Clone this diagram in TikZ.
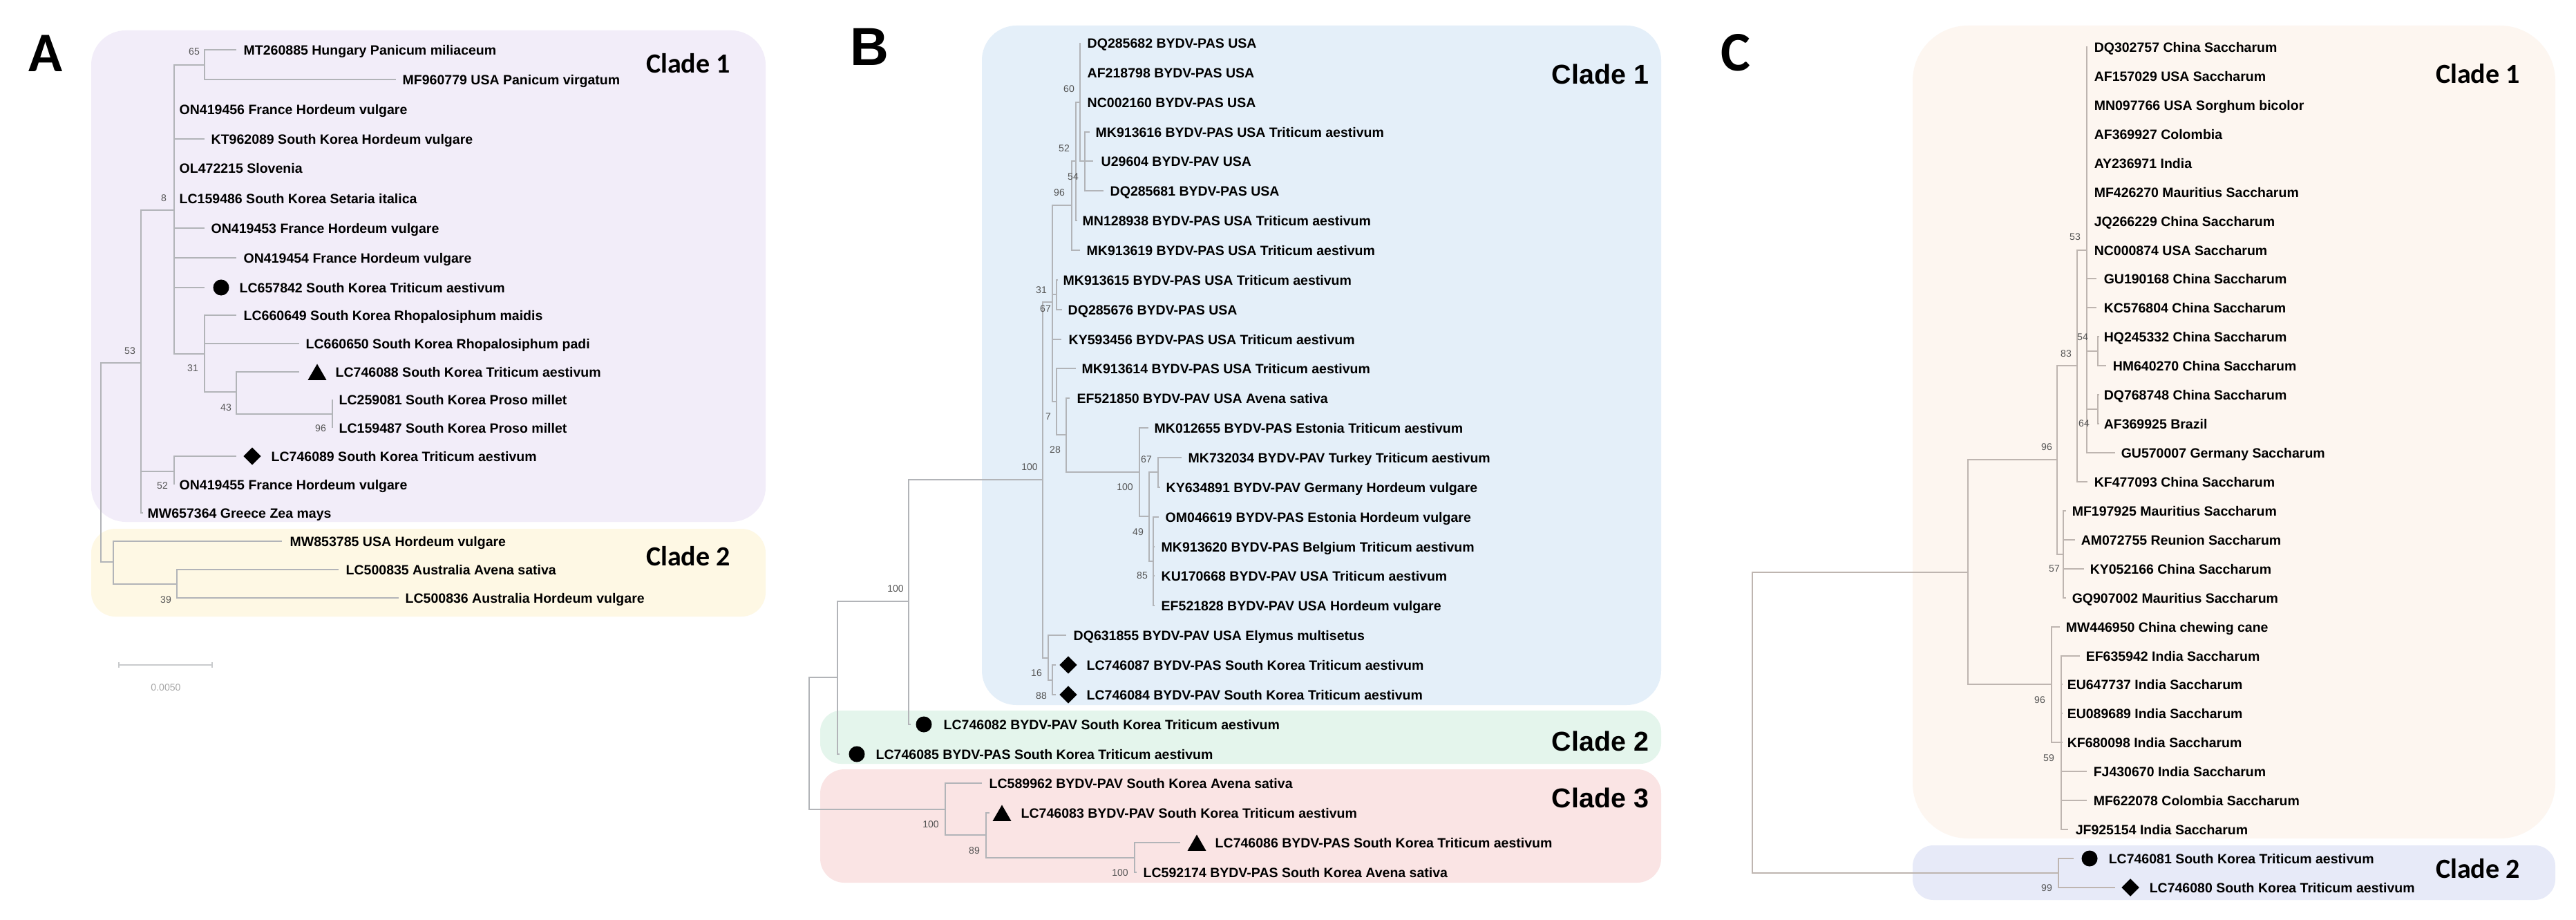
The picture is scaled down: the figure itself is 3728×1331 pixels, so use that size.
\documentclass[tikz,border=0pt]{standalone}
\usepackage{fontspec}
\setmainfont{Liberation Sans}
\newfontfamily\calfont{Carlito}
\usetikzlibrary{shapes.geometric}
\definecolor{treegray}{RGB}{178,180,184}
\definecolor{treegrayc}{RGB}{190,181,176}
\definecolor{bootgray}{RGB}{85,85,85}
\definecolor{cladeAone}{RGB}{242,237,249}
\definecolor{cladeAtwo}{RGB}{254,248,228}
\definecolor{cladeBone}{RGB}{228,239,249}
\definecolor{cladeBtwo}{RGB}{228,245,236}
\definecolor{cladeBthree}{RGB}{250,228,228}
\definecolor{cladeCone}{RGB}{253,246,240}
\definecolor{cladeCtwo}{RGB}{231,234,248}
\newcommand{\taxon}[5]{\coordinate (#1) at (#2,#3); \node [ leaf ] (#1-l) at (#4,#3) {#5};}

\begin{document}
\begin{tikzpicture}[ x=0.01cm, y=-0.01cm ,
  branch/.style={ color=treegray , line width=0.6pt , to path={|- (\tikztotarget)} },
  leaf/.style={ anchor=west , inner sep=0pt , text height=4pt , text depth=0pt , text=black , font=\fontsize{5.55}{6}\selectfont\bfseries },
  boot/.style={ inner sep=0pt , text=bootgray , font=\fontsize{4}{4.5}\selectfont },
  clade/.style={ inner sep=0pt , text height=7.6pt , text depth=0pt , font=\calfont\fontsize{11.4}{12}\selectfont\bfseries },
  cladeb/.style={ inner sep=0pt , text height=8.1pt , text depth=0pt , font=\fontsize{11.2}{12}\selectfont\bfseries },
  panel/.style={ inner sep=0pt , text height=14.6pt , text depth=0pt , font=\calfont\fontsize{23}{24}\selectfont\bfseries },
  mkcircle/.style={ circle , fill=black , inner sep=0pt , minimum size=0.23cm },
  mkdiam/.style={ diamond , fill=black , inner sep=0pt , minimum width=0.26cm , minimum height=0.26cm },
  mktri/.style={ regular polygon , regular polygon sides=3 , fill=black , inner sep=0pt , minimum size=0.31cm } ]

\fill [white] (0,0) rectangle (3728,1331);
\useasboundingbox (0,0) rectangle (3728,1331);

\fill [cladeAone , rounded corners=0.5cm] (132,44) rectangle (1108,755);
\fill [cladeAtwo , rounded corners=0.35cm] (132,765) rectangle (1108,892);
\fill [cladeBone , rounded corners=0.5cm] (1421,37) rectangle (2404,1020);
\fill [cladeBtwo , rounded corners=0.3cm] (1187,1028) rectangle (2404,1105);
\fill [cladeBthree , rounded corners=0.35cm] (1187,1113) rectangle (2404,1277);
\fill [cladeCone , rounded corners=0.8cm] (2768,37) rectangle (3698,1213);
\fill [cladeCtwo , rounded corners=0.3cm] (2768,1223) rectangle (3698,1302);

\node [ panel ] (pA) at (66,78) {A};
\node [ panel , font=\fontsize{22}{24}\selectfont\bfseries , text height=15.8pt ] (pB) at (1258,67) {B};
\node [ panel ] (pC) at (2512,77) {C};
\node [ clade ] (cA1) at (996,92) {Clade 1};
\node [ clade ] (cA2) at (996,805) {Clade 2};
\node [ cladeb ] (cB1) at (2316,107) {Clade 1};
\node [ cladeb ] (cB2) at (2316,1072) {Clade 2};
\node [ cladeb ] (cB3) at (2316,1154) {Clade 3};
\node [ clade ] (cC1) at (3586,107) {Clade 1};
\node [ clade ] (cC2) at (3586,1257) {Clade 2};

\coordinate (rootA) at (146,670);
\coordinate (a53) at (204,525);
\coordinate (a8) at (252,304);
\coordinate (a65) at (296,94);
\coordinate (a31) at (296,512);
\coordinate (a43) at (342,567);
\coordinate (a96) at (481,599);
\coordinate (a52) at (252,682);
\coordinate (a2) at (164,813);
\coordinate (a39) at (256,845);
\taxon{MT260885}{342}{72}{352}{MT260885 Hungary Panicum miliaceum}
\taxon{MF960779}{573}{115}{582}{MF960779 USA Panicum virgatum}
\taxon{ON419456}{252}{158}{259}{ON419456 France Hordeum vulgare}
\taxon{KT962089}{296}{201}{305}{KT962089 South Korea Hordeum vulgare}
\taxon{OL472215}{252}{243}{259}{OL472215 Slovenia}
\taxon{LC159486}{252}{287}{259}{LC159486 South Korea Setaria italica}
\taxon{ON419453}{296}{330}{305}{ON419453 France Hordeum vulgare}
\taxon{ON419454}{342}{373}{352}{ON419454 France Hordeum vulgare}
\taxon{LC657842}{296}{416}{346}{LC657842 South Korea Triticum aestivum}
\taxon{LC660649}{342}{456}{352}{LC660649 South Korea Rhopalosiphum maidis}
\taxon{LC660650}{433}{497}{442}{LC660650 South Korea Rhopalosiphum padi}
\taxon{LC746088}{433}{538}{485}{LC746088 South Korea Triticum aestivum}
\taxon{LC259081}{481}{578}{490}{LC259081 South Korea Proso millet}
\taxon{LC159487}{481}{619}{490}{LC159487 South Korea Proso millet}
\taxon{LC746089}{342}{660}{392}{LC746089 South Korea Triticum aestivum}
\taxon{ON419455}{252}{701}{259}{ON419455 France Hordeum vulgare}
\taxon{MW657364}{207}{742}{213}{MW657364 Greece Zea mays}
\taxon{MW853785}{408}{783}{419}{MW853785 USA Hordeum vulgare}
\taxon{LC500835}{490}{824}{500}{LC500835 Australia Avena sativa}
\taxon{LC500836}{577}{865}{586}{LC500836 Australia Hordeum vulgare}
\node [ mkcircle ] (mLC657842) at (320,416) {};
\node [ mktri ] (mLC746088) at (459,542) {};
\node [ mkdiam ] (mLC746089) at (365,660) {};

\path [ branch ]
(rootA) edge (a53) edge (a2)
(a53) edge (a8) edge (a52) edge (MW657364)
(a8) edge (a65) edge (ON419456) edge (KT962089) edge (OL472215) edge (LC159486)
     edge (ON419453) edge (ON419454) edge (LC657842) edge (a31)
(a65) edge (MT260885) edge (MF960779)
(a31) edge (LC660649) edge (LC660650) edge (a43)
(a43) edge (LC746088) edge (a96)
(a96) edge (LC259081) edge (LC159487)
(a52) edge (LC746089) edge (ON419455)
(a2) edge (MW853785) edge (a39)
(a39) edge (LC500835) edge (LC500836);

\node [ boot ] (bs-a65) at (281,75) {65};
\node [ boot ] (bs-a8) at (237,287) {8};
\node [ boot ] (bs-a31) at (279,533) {31};
\node [ boot ] (bs-a43) at (327,590) {43};
\node [ boot ] (bs-a96) at (464,620) {96};
\node [ boot ] (bs-a53) at (188,508) {53};
\node [ boot ] (bs-a52) at (235,703) {52};
\node [ boot ] (bs-a39) at (240,868) {39};

\coordinate (sbL) at (172,962);
\coordinate (sbR) at (307,962);
\draw [ color=treegray!70 , line width=0.6pt ] (sbL) -- (sbR);
\draw [ color=treegray!70 , line width=0.6pt ] ([yshift=0.04cm]sbL) -- ([yshift=-0.04cm]sbL);
\draw [ color=treegray!70 , line width=0.6pt ] ([yshift=0.04cm]sbR) -- ([yshift=-0.04cm]sbR);
\node [ boot , text=gray!70 ] (sb-l) at (240,995) {0.0050};

\coordinate (bRoot) at (1171,1076);
\coordinate (bR) at (1212,980);
\coordinate (bQ) at (1315,870);
\coordinate (bG) at (1509,694);
\coordinate (bE) at (1523,437);
\coordinate (bD) at (1551,297);
\coordinate (bC) at (1557,233);
\coordinate (bA) at (1563,148);
\coordinate (bB) at (1570,233);
\coordinate (bF) at (1529,426);
\coordinate (bH) at (1529,581);
\coordinate (bI) at (1543,629);
\coordinate (bJ) at (1649,683);
\coordinate (bK) at (1663,747);
\coordinate (bL) at (1676,683);
\coordinate (bM) at (1669,812);
\coordinate (bO) at (1517,952);
\coordinate (bP) at (1523,984);
\coordinate (bT) at (1368,1171);
\coordinate (bU) at (1427,1208);
\coordinate (bV) at (1642,1241);
\taxon{DQ285682}{1563}{62}{1573}{DQ285682 BYDV-PAS USA}
\taxon{AF218798}{1563}{105}{1573}{AF218798 BYDV-PAS USA}
\taxon{NC002160}{1563}{148}{1573}{NC002160 BYDV-PAS USA}
\taxon{MK913616}{1577}{191}{1585}{MK913616 BYDV-PAS USA Triticum aestivum}
\taxon{U29604}{1582}{233}{1593}{U29604 BYDV-PAV USA}
\taxon{DQ285681}{1597}{276}{1606}{DQ285681 BYDV-PAS USA}
\taxon{MN128938}{1559}{319}{1566}{MN128938 BYDV-PAS USA Triticum aestivum}
\taxon{MK913619}{1563}{362}{1572}{MK913619 BYDV-PAS USA Triticum aestivum}
\taxon{MK913615}{1531}{405}{1538}{MK913615 BYDV-PAS USA Triticum aestivum}
\taxon{DQ285676}{1537}{448}{1545}{DQ285676 BYDV-PAS USA}
\taxon{KY593456}{1536}{491}{1546}{KY593456 BYDV-PAS USA Triticum aestivum}
\taxon{MK913614}{1557}{533}{1565}{MK913614 BYDV-PAS USA Triticum aestivum}
\taxon{EF521850}{1548}{576}{1558}{EF521850 BYDV-PAV USA Avena sativa}
\taxon{MK012655}{1662}{619}{1670}{MK012655 BYDV-PAS Estonia Triticum aestivum}
\taxon{MK732034}{1710}{662}{1719}{MK732034 BYDV-PAV Turkey Triticum aestivum}
\taxon{KY634891}{1679}{705}{1687}{KY634891 BYDV-PAV Germany Hordeum vulgare}
\taxon{OM046619}{1677}{748}{1686}{OM046619 BYDV-PAS Estonia Hordeum vulgare}
\taxon{MK913620}{1671}{791}{1680}{MK913620 BYDV-PAS Belgium Triticum aestivum}
\taxon{KU170668}{1671}{833}{1680}{KU170668 BYDV-PAV USA Triticum aestivum}
\taxon{EF521828}{1671}{876}{1680}{EF521828 BYDV-PAV USA Hordeum vulgare}
\taxon{DQ631855}{1543}{919}{1553}{DQ631855 BYDV-PAV USA Elymus multisetus}
\taxon{LC746087}{1528}{962}{1572}{LC746087 BYDV-PAS South Korea Triticum aestivum}
\taxon{LC746084}{1528}{1005}{1572}{LC746084 BYDV-PAV South Korea Triticum aestivum}
\taxon{LC746082}{1318}{1048}{1365}{LC746082 BYDV-PAV South Korea Triticum aestivum}
\taxon{LC746085}{1215}{1091}{1267}{LC746085 BYDV-PAS South Korea Triticum aestivum}
\taxon{LC589962}{1421}{1133}{1431}{LC589962 BYDV-PAV South Korea Avena sativa}
\taxon{LC746083}{1432}{1176}{1477}{LC746083 BYDV-PAV South Korea Triticum aestivum}
\taxon{LC746086}{1708}{1219}{1758}{LC746086 BYDV-PAS South Korea Triticum aestivum}
\taxon{LC592174}{1645}{1262}{1654}{LC592174 BYDV-PAS South Korea Avena sativa}
\node [ mkdiam ] (mLC746087) at (1546,962) {};
\node [ mkdiam ] (mLC746084) at (1546,1005) {};
\node [ mkcircle ] (mLC746082) at (1337,1048) {};
\node [ mkcircle ] (mLC746085) at (1240,1091) {};
\node [ mktri ] (mLC746083) at (1450,1180) {};
\node [ mktri ] (mLC746086) at (1732,1223) {};

\path [ branch ]
(bRoot) edge (bR) edge (bT)
(bR) edge (bQ) edge (LC746085)
(bQ) edge (bG) edge (LC746082)
(bG) edge (bE) edge (bO)
(bE) edge (bD) edge (bF) edge (KY593456) edge (bH)
(bD) edge (bC) edge (MK913619)
(bC) edge (bA) edge (MN128938)
(bA) edge (DQ285682) edge (AF218798) edge (NC002160) edge (bB)
(bB) edge (MK913616) edge (U29604) edge (DQ285681)
(bF) edge (MK913615) edge (DQ285676)
(bH) edge (MK913614) edge (bI)
(bI) edge (EF521850) edge (bJ)
(bJ) edge (MK012655) edge (bK)
(bK) edge (bL) edge (bM)
(bL) edge (MK732034) edge (KY634891)
(bM) edge (OM046619) edge (MK913620) edge (KU170668) edge (EF521828)
(bO) edge (DQ631855) edge (bP)
(bP) edge (LC746087) edge (LC746084)
(bT) edge (LC589962) edge (bU)
(bU) edge (LC746083) edge (bV)
(bV) edge (LC746086) edge (LC592174);

\node [ boot ] (bs-bA) at (1547,129) {60};
\node [ boot ] (bs-bC) at (1540,215) {52};
\node [ boot ] (bs-bB) at (1553,256) {54};
\node [ boot ] (bs-bD) at (1533,279) {96};
\node [ boot ] (bs-bF) at (1507,420) {31};
\node [ boot ] (bs-bE) at (1513,447) {67};
\node [ boot ] (bs-bH) at (1517,603) {7};
\node [ boot ] (bs-bI) at (1527,651) {28};
\node [ boot ] (bs-bG) at (1490,676) {100};
\node [ boot ] (bs-bL) at (1659,665) {67};
\node [ boot ] (bs-bJ) at (1628,705) {100};
\node [ boot ] (bs-bK) at (1647,770) {49};
\node [ boot ] (bs-bM) at (1653,833) {85};
\node [ boot ] (bs-bO) at (1500,974) {16};
\node [ boot ] (bs-bP) at (1507,1007) {88};
\node [ boot ] (bs-bQ) at (1296,852) {100};
\node [ boot ] (bs-bT) at (1347,1193) {100};
\node [ boot ] (bs-bU) at (1410,1231) {89};
\node [ boot ] (bs-bV) at (1621,1263) {100};

\coordinate (cRoot) at (2536,1045);
\coordinate (cX) at (2848,828);
\coordinate (c96) at (2977,665);
\coordinate (c83) at (3006,529);
\coordinate (c53) at (3020,362);
\coordinate (c54) at (3036,508);
\coordinate (c64) at (3036,592);
\coordinate (c57) at (2986,802);
\coordinate (c96b) at (2969,990);
\coordinate (c59) at (2983,1074);
\coordinate (c99) at (2979,1263);
\taxon{DQ302757}{3021}{68}{3030}{DQ302757 China Saccharum}
\taxon{AF157029}{3021}{110}{3030}{AF157029 USA Saccharum}
\taxon{MN097766}{3021}{152}{3030}{MN097766 USA Sorghum bicolor}
\taxon{AF369927}{3021}{194}{3030}{AF369927 Colombia}
\taxon{AY236971}{3021}{236}{3030}{AY236971 India}
\taxon{MF426270}{3021}{278}{3030}{MF426270 Mauritius Saccharum}
\taxon{JQ266229}{3021}{320}{3030}{JQ266229 China Saccharum}
\taxon{NC000874}{3021}{362}{3030}{NC000874 USA Saccharum}
\taxon{GU190168}{3034}{403}{3044}{GU190168 China Saccharum}
\taxon{KC576804}{3034}{445}{3044}{KC576804 China Saccharum}
\taxon{HQ245332}{3038}{487}{3044}{HQ245332 China Saccharum}
\taxon{HM640270}{3048}{529}{3057}{HM640270 China Saccharum}
\taxon{DQ768748}{3038}{571}{3044}{DQ768748 China Saccharum}
\taxon{AF369925}{3038}{613}{3044}{AF369925 Brazil}
\taxon{GU570007}{3061}{655}{3069}{GU570007 Germany Saccharum}
\taxon{KF477093}{3021}{697}{3030}{KF477093 China Saccharum}
\taxon{MF197925}{2990}{739}{2998}{MF197925 Mauritius Saccharum}
\taxon{AM072755}{3003}{781}{3011}{AM072755 Reunion Saccharum}
\taxon{KY052166}{3016}{823}{3024}{KY052166 China Saccharum}
\taxon{GQ907002}{2990}{865}{2998}{GQ907002 Mauritius Saccharum}
\taxon{MW446950}{2981}{907}{2989}{MW446950 China chewing cane}
\taxon{EF635942}{3010}{949}{3018}{EF635942 India Saccharum}
\taxon{EU647737}{2985}{990}{2991}{EU647737 India Saccharum}
\taxon{EU089689}{2985}{1032}{2991}{EU089689 India Saccharum}
\taxon{KF680098}{2985}{1074}{2991}{KF680098 India Saccharum}
\taxon{FJ430670}{3020}{1116}{3029}{FJ430670 India Saccharum}
\taxon{MF622078}{3020}{1158}{3029}{MF622078 Colombia Saccharum}
\taxon{JF925154}{2993}{1200}{3003}{JF925154 India Saccharum}
\taxon{LC746081}{3001}{1242}{3051}{LC746081 South Korea Triticum aestivum}
\taxon{LC746080}{3061}{1284}{3110}{LC746080 South Korea Triticum aestivum}
\node [ mkcircle ] (mLC746081) at (3024,1242) {};
\node [ mkdiam ] (mLC746080) at (3083,1284) {};

\path [ branch , color=treegrayc ]
(cRoot) edge (cX) edge (c99)
(cX) edge (c96) edge (c96b)
(c96) edge (c83) edge (c57)
(c83) edge (c53) edge (KF477093)
(c53) edge (DQ302757) edge (AF157029) edge (MN097766) edge (AF369927) edge (AY236971)
      edge (MF426270) edge (JQ266229) edge (NC000874) edge (GU190168) edge (KC576804)
      edge (c54) edge (c64) edge (GU570007)
(c54) edge (HQ245332) edge (HM640270)
(c64) edge (DQ768748) edge (AF369925)
(c57) edge (MF197925) edge (AM072755) edge (KY052166) edge (GQ907002)
(c96b) edge (MW446950) edge (c59)
(c59) edge (EF635942) edge (EU647737) edge (EU089689) edge (KF680098)
      edge (FJ430670) edge (MF622078) edge (JF925154)
(c99) edge (LC746081) edge (LC746080);

\node [ boot ] (bs-c53) at (3003,343) {53};
\node [ boot ] (bs-c83) at (2990,512) {83};
\node [ boot ] (bs-c96) at (2962,647) {96};
\node [ boot ] (bs-c54) at (3014,488) {54};
\node [ boot ] (bs-c64) at (3016,613) {64};
\node [ boot ] (bs-c57) at (2973,823) {57};
\node [ boot ] (bs-c96b) at (2952,1013) {96};
\node [ boot ] (bs-c59) at (2965,1097) {59};
\node [ boot ] (bs-c99) at (2962,1285) {99};
\end{tikzpicture}
\end{document}
